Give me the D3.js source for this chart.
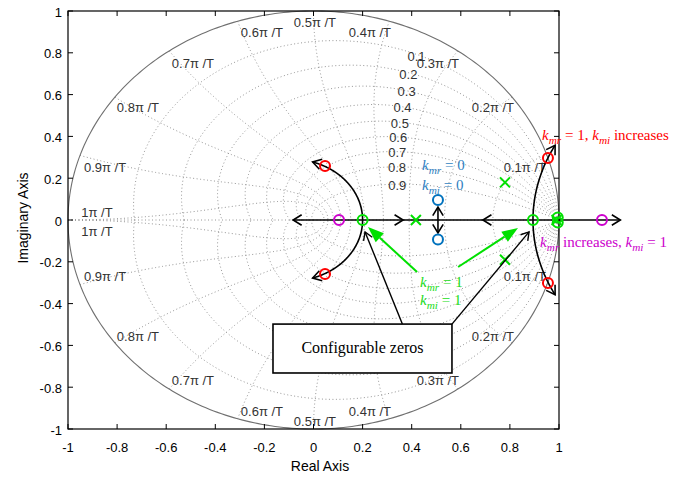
<!DOCTYPE html>
<html lang=en>
<head>
	<meta charset="utf-8">
	<title>z-plane configurable zeros</title>
	<script src="https://cdn.jsdelivr.net/npm/d3@7/dist/d3.min.js"></script>
	<style>
		body { margin:0; background:#fff; }
		text { font-family: "Liberation Sans", Arial, sans-serif; }
		.ann { font-family: "Liberation Serif", "Times New Roman", serif; }
	</style>
</head>
<body>
<script type="text/javascript">
	// tick values
	var xTicks = [-1, -0.8, -0.6, -0.4, -0.2, 0, 0.2, 0.4, 0.6, 0.8, 1];
	var yTicks = [-1, -0.8, -0.6, -0.4, -0.2, 0, 0.2, 0.4, 0.6, 0.8, 1];

	// zgrid: damping ratios and natural frequencies (x pi/T)
	var zetas = [0.1, 0.2, 0.3, 0.4, 0.5, 0.6, 0.7, 0.8, 0.9];
	var wns = [0.1, 0.2, 0.3, 0.4, 0.5, 0.6, 0.7, 0.8, 0.9, 1];
	var wnLabels = ['0.1π /T', '0.2π /T', '0.3π /T', '0.4π /T', '0.5π /T',
		'0.6π /T', '0.7π /T', '0.8π /T', '0.9π /T', '1π /T'];

	// poles and zeros (real, imag)
	var redZeros = [[0.047, 0.258], [0.047, -0.258], [0.955, 0.297], [0.955, -0.301]];
	var magentaZeros = [[0.104, 0], [1.175, 0]];
	var greenZeros = [[0.2, 0], [0.894, 0], [0.995, 0.012], [0.995, -0.012]];
	var greenPoles = [[0.417, 0], [0.78, 0.18], [0.78, -0.19], [0.99, 0]];
	var blueZeros = [[0.507, 0.096], [0.507, -0.093]];

	// loci: real-axis arrow tips and directions, arcs (center, radius, angles)
	var axisLocus = [-0.083, 1.25];
	var axisArrows = [[-0.083, -1], [0.365, 1], [0.69, -1], [1.25, 1]];
	var arcs = [
		{cx: -0.091, r: 0.291, a0: 0, a1: 1.266},
		{cx: -0.091, r: 0.291, a0: 0, a1: -1.266},
		{cx: 1.649, r: 0.755, a0: Math.PI, a1: Math.PI - 0.494},
		{cx: 1.649, r: 0.755, a0: Math.PI, a1: Math.PI + 0.494}
	];

	var W = 686, H = 478;
	var L = 68, R = 559, T = 11, B = 429;

	var x = d3.scaleLinear().domain([-1, 1]).range([L, R]);
	var y = d3.scaleLinear().domain([-1, 1]).range([B, T]);

	var svg = d3.select('body').append('svg')
		.attr('width', W).attr('height', H);

	var line = d3.line().x(function(d){ return x(d[0]); }).y(function(d){ return y(d[1]); });

	// ---- grid ----
	var grid = svg.append('g')
		.attr('fill', 'none')
		.attr('stroke', '#8a8a8a')
		.attr('stroke-width', 0.9)
		.attr('stroke-dasharray', '1,2.5');

	grid.append('path').attr('d', line([[-1, 0], [1, 0]]));

	zetas.forEach(function(z){
		var m = z / Math.sqrt(1 - z*z);
		[1, -1].forEach(function(s){
			var pts = d3.range(0, 201).map(function(i){
				var th = Math.PI * i / 200;
				var rr = Math.exp(-m*th);
				return [rr*Math.cos(th), s*rr*Math.sin(th)];
			});
			grid.append('path').attr('d', line(pts));
		});
	});

	wns.forEach(function(w){
		var wn = w * Math.PI;
		[1, -1].forEach(function(s){
			var pts = d3.range(0, 201).map(function(i){
				var z = i / 200;
				var rr = Math.exp(-z*wn);
				var th = wn * Math.sqrt(1 - z*z);
				return [rr*Math.cos(th), s*rr*Math.sin(th)];
			});
			grid.append('path').attr('d', line(pts));
		});
	});

	// unit circle
	svg.append('path')
		.attr('d', line(d3.range(0, 361).map(function(i){
			var a = i * Math.PI / 180; return [Math.cos(a), Math.sin(a)];
		})))
		.attr('fill', 'none').attr('stroke', '#707070').attr('stroke-width', 1.1);

	// grid labels
	var lab = svg.append('g').attr('fill', '#333').attr('font-size', 13)
		.attr('text-anchor', 'middle').attr('dominant-baseline', 'central');

	zetas.forEach(function(z){
		var w0 = 1.07;
		var rr = Math.exp(-z*w0), th = w0*Math.sqrt(1 - z*z);
		lab.append('text')
			.attr('x', x(rr*Math.cos(th)) - (z < 0.25 ? 4 : 0))
			.attr('y', y(rr*Math.sin(th)) + 1)
			.text(String(z));
	});

	// label anchors, upper half (mirrored below)
	var wnLabelAt = [[0.861, 0.249], [0.731, 0.536], [0.507, 0.751], [0.230, 0.895], [0.006, 0.943],
		[-0.210, 0.895], [-0.491, 0.751], [-0.715, 0.536], [-0.849, 0.249], [-0.882, 0.038]];
	wnLabels.forEach(function(t, i){
		var p = wnLabelAt[i];
		lab.append('text').attr('x', x(p[0])).attr('y', y(p[1])).text(t);
		var ly = (i == 9) ? y(-0.053) : y(-p[1]) + 4;
		lab.append('text').attr('x', x(p[0])).attr('y', ly).text(t);
	});

	// ---- axes box and ticks ----
	svg.append('rect').attr('x', L).attr('y', T).attr('width', R - L).attr('height', B - T)
		.attr('fill', 'none').attr('stroke', '#000').attr('stroke-width', 1.2);

	var tk = svg.append('g').attr('stroke', '#000').attr('stroke-width', 1);
	xTicks.forEach(function(v){
		tk.append('line').attr('x1', x(v)).attr('x2', x(v)).attr('y1', B).attr('y2', B - 5);
		tk.append('line').attr('x1', x(v)).attr('x2', x(v)).attr('y1', T).attr('y2', T + 5);
	});
	yTicks.forEach(function(v){
		tk.append('line').attr('y1', y(v)).attr('y2', y(v)).attr('x1', L).attr('x2', L + 5);
		tk.append('line').attr('y1', y(v)).attr('y2', y(v)).attr('x1', R).attr('x2', R - 5);
	});

	svg.append('g').attr('font-size', 13).attr('text-anchor', 'middle')
		.selectAll('text').data(xTicks).enter().append('text')
		.attr('x', function(d){ return x(d); }).attr('y', B + 23)
		.text(function(d){ return d; });
	svg.append('g').attr('font-size', 13).attr('text-anchor', 'end')
		.attr('dominant-baseline', 'central')
		.selectAll('text').data(yTicks).enter().append('text')
		.attr('x', L - 6).attr('y', function(d){ return y(d) + 1; })
		.text(function(d){ return d; });

	svg.append('text').attr('x', 320).attr('y', 471).attr('font-size', 14)
		.attr('text-anchor', 'middle').text('Real Axis');
	svg.append('text').attr('transform', 'translate(28,218) rotate(-90)').attr('font-size', 14)
		.attr('text-anchor', 'middle').text('Imaginary Axis');

	// ---- loci with arrowheads ----
	function openHead(g, tip, dir, color, len, sw){
		var a = Math.atan2(dir[1], dir[0]);
		var h = [a + Math.PI - 0.55, a + Math.PI + 0.55].map(function(b){
			return [tip[0] + len*Math.cos(b), tip[1] + len*Math.sin(b)];
		});
		g.append('path').attr('d', 'M' + h[0] + 'L' + tip + 'L' + h[1])
			.attr('fill', 'none').attr('stroke', color).attr('stroke-width', sw);
	}

	var loc = svg.append('g').attr('fill', 'none').attr('stroke', '#000').attr('stroke-width', 1.6);
	loc.append('path').attr('d', line([[axisLocus[0], 0], [axisLocus[1], 0]]));
	axisArrows.forEach(function(a){
		openHead(loc, [x(a[0]), y(0)], [a[1], 0], '#000', 10, 1.6);
	});
	arcs.forEach(function(c){
		var pts = d3.range(0, 101).map(function(i){
			var a = c.a0 + (c.a1 - c.a0) * i / 100;
			return [c.cx + c.r*Math.cos(a), c.r*Math.sin(a)];
		});
		loc.append('path').attr('d', line(pts));
		var p1 = pts[100], p0 = pts[98];
		var dx = x(p1[0]) - x(p0[0]), dy = y(p1[1]) - y(p0[1]);
		openHead(loc, [x(p1[0]), y(p1[1])], [dx, dy], '#000', 10, 1.6);
	});
	// blue double arrow
	loc.append('path').attr('d', line([[0.507, 0.062], [0.507, -0.062]]));
	openHead(loc, [x(0.507), y(0.062)], [0, -1], '#000', 10, 1.6);
	openHead(loc, [x(0.507), y(-0.062)], [0, 1], '#000', 10, 1.6);

	// ---- markers ----
	function circles(data, color){
		svg.append('g').selectAll('circle').data(data).enter().append('circle')
			.attr('cx', function(d){ return x(d[0]); }).attr('cy', function(d){ return y(d[1]); })
			.attr('r', 5).attr('fill', 'none').attr('stroke', color).attr('stroke-width', 2);
	}
	circles(redZeros, '#ff0000');
	circles(magentaZeros, '#cc00cc');
	circles(greenZeros, '#00e000');
	circles(blueZeros, '#0072bd');
	svg.append('g').selectAll('path').data(greenPoles).enter().append('path')
		.attr('d', function(d){
			var cx = x(d[0]), cy = y(d[1]), s = 5;
			return 'M' + (cx - s) + ',' + (cy - s) + 'L' + (cx + s) + ',' + (cy + s) +
				'M' + (cx - s) + ',' + (cy + s) + 'L' + (cx + s) + ',' + (cy - s);
		})
		.attr('stroke', '#00e000').attr('stroke-width', 2).attr('fill', 'none');

	// ---- annotations ----
	var ann = svg.append('g');
	ann.append('rect').attr('x', x(-0.165)).attr('y', y(-0.498))
		.attr('width', x(0.564) - x(-0.165)).attr('height', y(-0.732) - y(-0.498))
		.attr('fill', '#fff').attr('stroke', '#000').attr('stroke-width', 1.6);
	ann.append('text').attr('class', 'ann').attr('x', (x(-0.165) + x(0.564)) / 2).attr('y', 353)
		.attr('font-size', 16).attr('text-anchor', 'middle').text('Configurable zeros');

	[[[0.362, -0.498], [0.210, -0.057]], [[0.564, -0.498], [0.878, -0.057]]].forEach(function(s){
		ann.append('path').attr('d', line(s)).attr('stroke', '#000').attr('stroke-width', 1.4).attr('fill', 'none');
		var dx = x(s[1][0]) - x(s[0][0]), dy = y(s[1][1]) - y(s[0][1]);
		openHead(ann, [x(s[1][0]), y(s[1][1])], [dx, dy], '#000', 9, 1.4);
	});

	[[[0.422, -0.249], [0.222, -0.033]], [[0.589, -0.225], [0.833, -0.038]]].forEach(function(s){
		var tip = [x(s[1][0]), y(s[1][1])];
		var dx = tip[0] - x(s[0][0]), dy = tip[1] - y(s[0][1]);
		var a = Math.atan2(dy, dx), len = 16;
		var base = [tip[0] - len*Math.cos(a), tip[1] - len*Math.sin(a)];
		ann.append('path').attr('d', 'M' + [x(s[0][0]), y(s[0][1])] + 'L' + base)
			.attr('stroke', '#00e000').attr('stroke-width', 2);
		var p1 = [base[0] + 6*Math.sin(a), base[1] - 6*Math.cos(a)];
		var p2 = [base[0] - 6*Math.sin(a), base[1] + 6*Math.cos(a)];
		ann.append('path').attr('d', 'M' + tip + 'L' + p1 + 'L' + p2 + 'Z').attr('fill', '#00e000');
	});

	// k-labels: parts = [text, italic, subscript]
	function kText(px, py, parts, color, size){
		var t = ann.append('text').attr('class', 'ann').attr('x', px).attr('y', py)
			.attr('font-size', size).attr('fill', color);
		var sub = false;
		parts.forEach(function(p){
			var s = t.append('tspan').text(p[0]);
			if(p[1]) s.attr('font-style', 'italic');
			if(p[2] && !sub){ s.attr('dy', 4).attr('font-size', size * 0.75); sub = true; }
			else if(!p[2] && sub){ s.attr('dy', -4); sub = false; }
		});
	}
	kText(x(0.931), y(0.383), [['k', 1, 0], ['mr', 1, 1], [' = 1, ', 0, 0], ['k', 1, 0], ['mi', 1, 1], [' increases', 0, 0]], '#ff0000', 15);
	kText(x(0.923), y(-0.129), [['k', 1, 0], ['mr', 1, 1], [' increases, ', 0, 0], ['k', 1, 0], ['mi', 1, 1], [' = 1', 0, 0]], '#cc00cc', 15);
	kText(x(0.442), y(0.239), [['k', 1, 0], ['mr', 1, 1], [' = 0', 0, 0]], '#2f7fc1', 15);
	kText(x(0.442), y(0.144), [['k', 1, 0], ['mi', 1, 1], [' = 0', 0, 0]], '#2f7fc1', 15);
	kText(x(0.434), y(-0.321), [['k', 1, 0], ['mr', 1, 1], [' = 1', 0, 0]], '#22dd22', 15);
	kText(x(0.434), y(-0.407), [['k', 1, 0], ['mi', 1, 1], [' = 1', 0, 0]], '#22dd22', 15);
</script>
</body>
</html>
